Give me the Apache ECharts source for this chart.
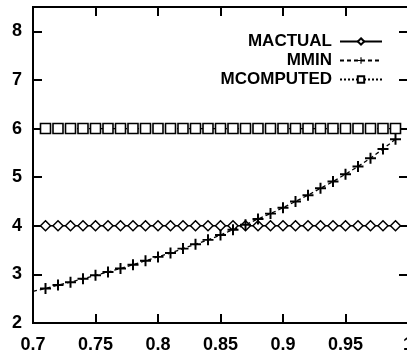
<!DOCTYPE html>
<html>
<head>
<meta charset="utf-8">
<script src="https://cdn.jsdelivr.net/npm/echarts@6/dist/echarts.min.js"></script>
<style>html,body{margin:0;padding:0;background:#fff}#c{width:407px;height:355px}</style>
</head>
<body>
<div id="c"></div>
<script>
// x positions (0.70 .. 1.00)
const xValues = [0.70,0.71,0.72,0.73,0.74,0.75,0.76,0.77,0.78,0.79,0.80,0.81,0.82,0.83,0.84,0.85,0.86,0.87,0.88,0.89,0.90,0.91,0.92,0.93,0.94,0.95,0.96,0.97,0.98,0.99,1.00];
const mActual = [4,4,4,4,4,4,4,4,4,4,4,4,4,4,4,4,4,4,4,4,4,4,4,4,4,4,4,4,4,4,4];
const mMin = [2.65,2.71,2.78,2.84,2.91,2.98,3.05,3.12,3.20,3.28,3.36,3.44,3.53,3.62,3.71,3.81,3.92,4.02,4.14,4.25,4.37,4.50,4.63,4.77,4.91,5.06,5.22,5.39,5.58,5.78];
const mComputed = [6,6,6,6,6,6,6,6,6,6,6,6,6,6,6,6,6,6,6,6,6,6,6,6,6,6,6,6,6,6,6];
const seriesNames = ['MACTUAL','MMIN','MCOMPUTED'];
const xTicks = [0.7,0.75,0.8,0.85,0.9,0.95,1];
const yTicks = [2,3,4,5,6,7,8];

const plusPath = 'path://M4.1,0H5.9V10H4.1ZM0,4.1H10V5.9H0Z';
function build(vals){
  return vals.map(function(v,i){
    const x = xValues[i];
    const item = {value:[x,v]};
    if (i===0 || i===xValues.length-1) item.symbol = 'none';
    return item;
  });
}
const font = 'Liberation Sans, Arial, Helvetica, sans-serif';
const chart = echarts.init(document.getElementById('c'), null, {renderer:'canvas'});
const axisCommonX = {
  type:'value', min:0.7, max:1.0, interval:0.05,
  splitLine:{show:false}, axisLine:{show:false},
  axisTick:{show:true, inside:true, length:9, lineStyle:{color:'#000', width:2}}
};
const axisCommonY = {
  type:'value', min:2, max:8.5, interval:1,
  splitLine:{show:false}, axisLine:{show:false},
  axisTick:{show:true, inside:true, length:9, lineStyle:{color:'#000', width:2}}
};
chart.setOption({
  animation:false,
  backgroundColor:'#fff',
  grid:{left:33, top:7, right:-1, bottom:32, outerBoundsMode:'none', containLabel:false,
    show:true, borderColor:'#000', borderWidth:2, backgroundColor:'transparent'},
  legend:{
    orient:'vertical', right:19, top:27, align:'right', itemGap:0,
    itemWidth:42, itemHeight:8,
    textStyle:{fontFamily:font, fontSize:17, fontWeight:'bold', color:'#000', padding:[0,3,0,0], lineHeight:19},
    data:seriesNames
  },
  xAxis:[
    Object.assign({}, axisCommonX, {position:'bottom',
      axisLabel:{show:true, margin:13, fontFamily:font, fontSize:18, fontWeight:'bold', color:'#000',
        formatter:function(v){
          return xTicks.some(function(t){return Math.abs(t-v)<1e-9;}) ? String(+v.toFixed(2)) : ''; }}}),
    Object.assign({}, axisCommonX, {position:'top', axisLabel:{show:false}})
  ],
  yAxis:[
    Object.assign({}, axisCommonY, {position:'left',
      axisLabel:{show:true, margin:11, fontFamily:font, fontSize:18, fontWeight:'bold', color:'#000', showMaxLabel:false,
        formatter:function(v){ return yTicks.indexOf(v)>=0 ? String(v) : ''; }}}),
    Object.assign({}, axisCommonY, {position:'right', axisLabel:{show:false}})
  ],
  series:[
    {name:seriesNames[0], type:'line', data:build(mActual), symbol:'diamond', symbolSize:[10,10], showAllSymbol:true,
      lineStyle:{color:'#000', width:1.3}, itemStyle:{color:'#fff', borderColor:'#000', borderWidth:1.5}},
    {name:seriesNames[1], type:'line', data:build(mMin), symbol:plusPath, symbolSize:11, showAllSymbol:true,
      lineStyle:{color:'#000', width:1.3, type:[4,3]}, itemStyle:{color:'#000', borderWidth:0}},
    {name:seriesNames[2], type:'line', data:build(mComputed), symbol:'rect', symbolSize:[10,10], showAllSymbol:true,
      lineStyle:{color:'#000', width:1.3, type:[2,2]}, itemStyle:{color:'#fff', borderColor:'#000', borderWidth:1.6}}
  ]
});
</script>
</body>
</html>
